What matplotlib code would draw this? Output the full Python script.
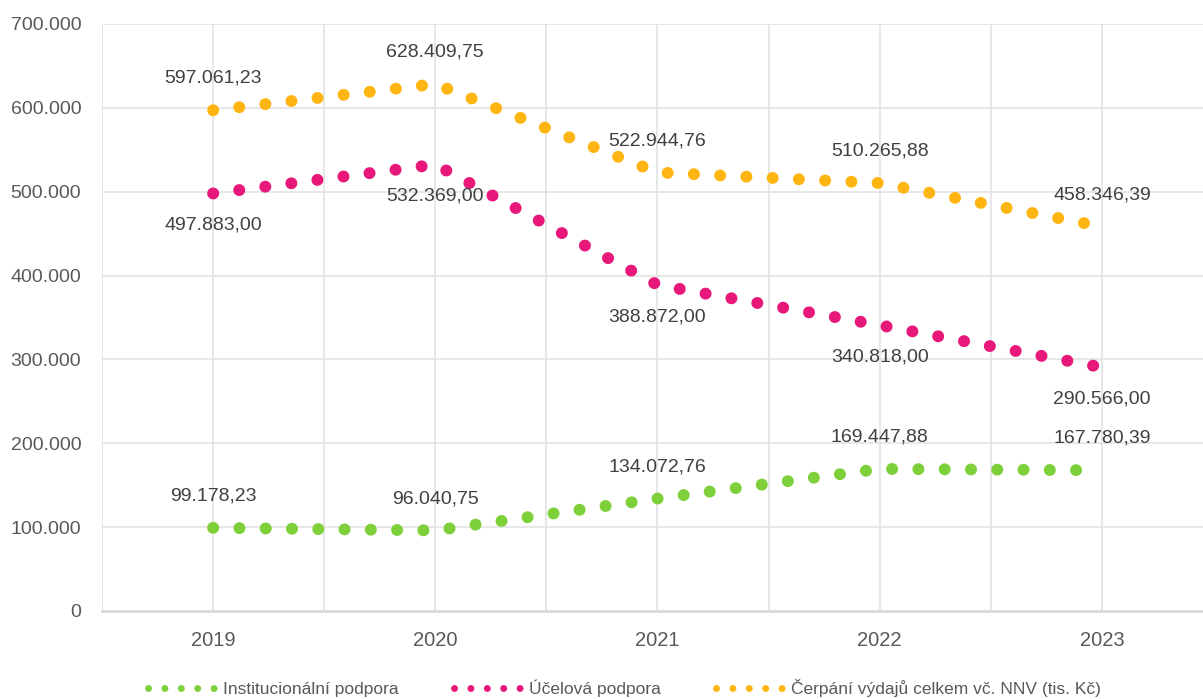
import matplotlib
matplotlib.use("Agg")
import matplotlib.pyplot as plt
from matplotlib.lines import Line2D
import numpy as np

# data (tis. Kč)
years = ["2019", "2020", "2021", "2022", "2023"]
institucionalni = [99178.23, 96040.75, 134072.76, 169447.88, 167780.39]
ucelova = [497883.00, 532369.00, 388872.00, 340818.00, 290566.00]
cerpani = [597061.23, 628409.75, 522944.76, 510265.88, 458346.39]

names = ["Institucionální podpora", "Účelová podpora",
         "Čerpání výdajů celkem vč. NNV (tis. Kč)"]
colors = ["#7ed03a", "#e8177a", "#ffb511"]
# label above (+1) or below (-1) the point
label_side = [1, -1, 1]

plt.rcParams["font.family"] = ["Liberation Sans", "DejaVu Sans"]
text_col = "#404040"

fig = plt.figure(figsize=(12.03, 6.99), dpi=100)
ax = fig.add_axes([0.0848, 0.1259, 0.9235, 0.8398])

x = np.arange(len(years))
series = [institucionalni, ucelova, cerpani]

for vals, col in zip(series, colors):
    ax.plot(x, vals, color=col, linewidth=8.6, linestyle=(0, (0.01, 2.19)),
            dash_capstyle="round", dash_joinstyle="round", zorder=3)

for vals, s in zip(series, label_side):
    for xi, v in zip(x, vals):
        txt = f"{v:,.2f}".replace(",", " ").replace(".", ",").replace(" ", ".")
        ax.annotate(txt, (xi, v), xytext=(0, 23 * s), textcoords="offset points",
                    ha="center", va="center", fontsize=14, color=text_col, zorder=4)

ax.set_xlim(-0.5, 4.5)
ax.set_ylim(0, 700000)
ax.set_yticks(np.arange(0, 700001, 100000))
ax.set_yticklabels(["0"] + [f"{v // 1000}.000" for v in range(100000, 700001, 100000)])
ax.set_xticks(x)
ax.set_xticklabels(years)
ax.set_xticks(np.arange(-0.5, 4.51, 0.5), minor=True)

ax.grid(which="major", axis="y", color="#e3e3e3", linewidth=1.2)
ax.grid(which="both", axis="x", color="#e3e3e3", linewidth=1.2)
ax.set_axisbelow(True)
ax.tick_params(axis="both", which="both", length=0, colors="#595959")
ax.tick_params(axis="x", labelsize=14.5, pad=14.5)
ax.tick_params(axis="y", labelsize=14, pad=15)
for side in ["top", "right", "left"]:
    ax.spines[side].set_visible(False)
ax.spines["bottom"].set_color("#d9d9d9")
ax.spines["bottom"].set_linewidth(2)

handles = [Line2D([0], [0], color=c, linewidth=5, linestyle=(0, (0.01, 2.35)),
                  dash_capstyle="round") for c in colors]
fig.legend(handles, names, loc="center", bbox_to_anchor=(0.519, 0.016), ncol=3,
           frameon=False, fontsize=12.5, handlelength=4.0, handletextpad=0.3,
           columnspacing=3.2, labelcolor="#595959")

fig.savefig("out.png", dpi=100)
plt.close(fig)
